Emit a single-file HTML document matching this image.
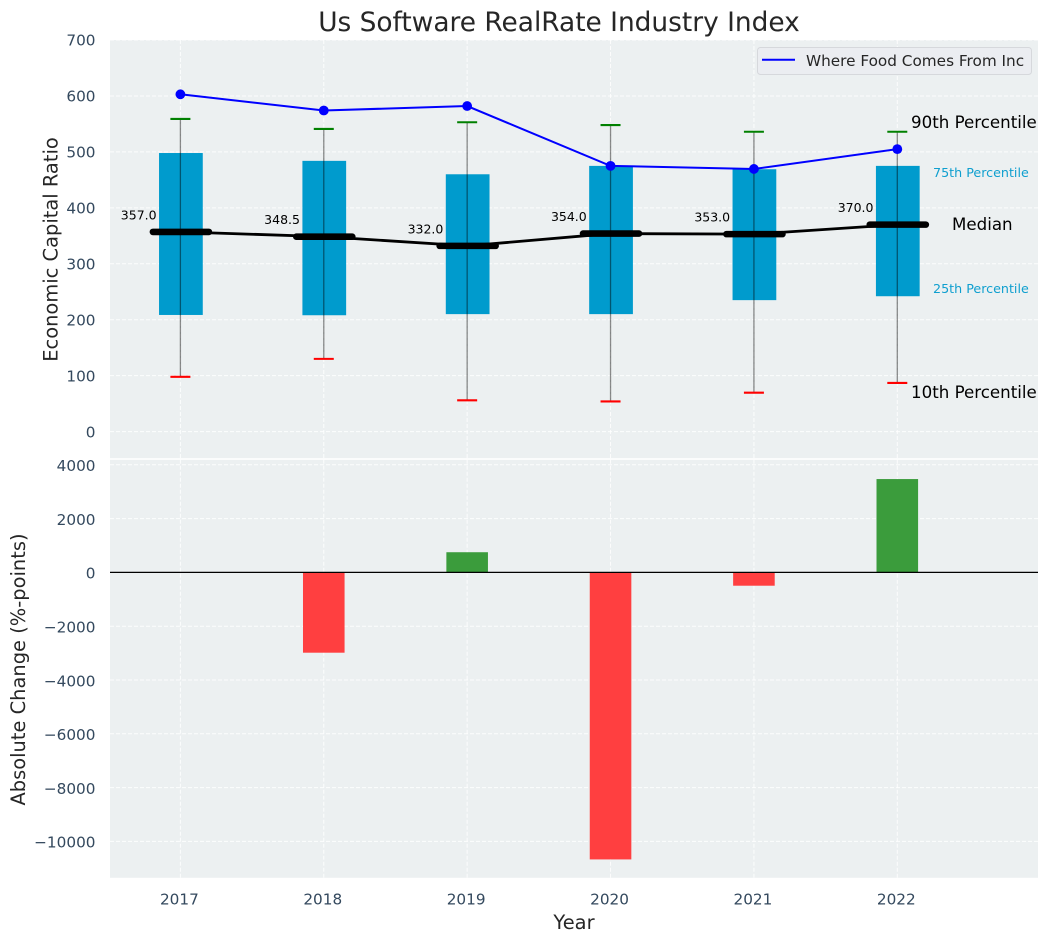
<!DOCTYPE html>
<html lang="en">
<head>
<meta charset="utf-8">
<title>Us Software RealRate Industry Index</title>
<style>
html,body{margin:0;padding:0;background:#fff;}
body{width:1048px;height:942px;overflow:hidden;}
svg{display:block;font-family:"DejaVu Sans","Liberation Sans",sans-serif;}
</style>
</head>
<body>
<svg id="chart" xmlns="http://www.w3.org/2000/svg" width="1048" height="942" viewBox="0 0 1048 942">
  <rect x="0" y="0" width="1048" height="942" fill="#ffffff"/>
  <rect x="110" y="40" width="928" height="418.2" fill="#ecf0f1"/>
  <rect x="110" y="459.8" width="928" height="418" fill="#ecf0f1"/>
  <g id="grid"></g>
  <g id="ticks"></g>
  <g id="marks-upper"></g>
  <g id="marks-lower"></g>
  <text x="559" y="31" text-anchor="middle" font-size="26.4px" fill="#262626">Us Software RealRate Industry Index</text>
  <text transform="translate(57.5,249.5) rotate(-90)" text-anchor="middle" font-size="19.44px" fill="#262626">Economic Capital Ratio</text>
  <text transform="translate(25,669.5) rotate(-90)" text-anchor="middle" font-size="19.44px" fill="#262626">Absolute Change (%-points)</text>
  <text x="574" y="929" text-anchor="middle" font-size="19.44px" fill="#262626">Year</text>
  <g>
    <rect x="757.5" y="47.5" width="274" height="27" rx="3" ry="3" fill="#ebedf1" stroke="#d6d8dc" stroke-width="1"/>
    <line x1="762" y1="59.7" x2="795" y2="59.7" stroke="#0000ff" stroke-width="2"/>
    <text x="806" y="66" font-size="15.28px" fill="#262626">Where Food Comes From Inc</text>
  </g>
  <g>
    <text x="911" y="128" font-size="16.67px" fill="#000000">90th Percentile</text>
    <text x="933" y="177" font-size="12.7px" fill="#0f9fcf">75th Percentile</text>
    <text x="952" y="230" font-size="16.67px" fill="#000000">Median</text>
    <text x="933" y="293" font-size="12.7px" fill="#0f9fcf">25th Percentile</text>
    <text x="911" y="398" font-size="16.67px" fill="#000000">10th Percentile</text>
  </g>
</svg>
<script>
const years = [2017, 2018, 2019, 2020, 2021, 2022];
const p90 = [559, 541, 553, 548, 536, 536];
const p75 = [498, 484, 460, 475, 469, 475];
const medians = [357.0, 348.5, 332.0, 354.0, 353.0, 370.0];
const p25 = [208.5, 208, 210, 210, 235, 242];
const p10 = [98, 130, 56, 54, 69.5, 87];
const companyValues = [603, 574, 582, 475, 469.5, 505];
const absoluteChange = [null, -2985, 750, -10670, -495, 3470];
const upperTicks = [0, 100, 200, 300, 400, 500, 600, 700];
const lowerTicks = [4000, 2000, 0, -2000, -4000, -6000, -8000, -10000];

const NS = 'http://www.w3.org/2000/svg';
const PLOT_L = 110, PLOT_R = 1038;
const UP_T = 40, UP_B = 458.2, LOW_T = 459.8, LOW_B = 877.8;
function xAt(year) { return 180.4 + (year - 2017) * 143.38; }
function yUp(v) { return 431.6 - v * 0.5594; }
function yLow(v) { return 572.4 - v * 0.0269; }
function pxWidth(yearSpan) { return yearSpan * 143.38; }
function fmt(v) { return String(v).replace('-', '\u2212'); }

function make(tag, parent, attrs) {
  const el = document.createElementNS(NS, tag);
  for (const k in attrs) el.setAttribute(k, attrs[k]);
  parent.appendChild(el);
  return el;
}

const grid = document.getElementById('grid');
const ticks = document.getElementById('ticks');
const up = document.getElementById('marks-upper');
const low = document.getElementById('marks-lower');
const gridStyle = { stroke: '#ffffff', 'stroke-width': 1, 'stroke-dasharray': '4 2', 'stroke-opacity': 0.85 };

upperTicks.forEach(function (t) {
  const g = make('line', grid, Object.assign({ x1: PLOT_L, x2: PLOT_R, y1: yUp(t), y2: yUp(t) }, gridStyle));
  
  
  const l = make('text', ticks, { x: 95.5, y: yUp(t) + 5.7, 'text-anchor': 'end', 'font-size': '15.28px', fill: '#34495e' });
  
  
  l.textContent = fmt(t);
});

lowerTicks.forEach(function (t) {
  const g = make('line', grid, Object.assign({ x1: PLOT_L, x2: PLOT_R, y1: yLow(t), y2: yLow(t) }, gridStyle));
  
  
  const l = make('text', ticks, { x: 95.5, y: yLow(t) + 6.3, 'text-anchor': 'end', 'font-size': '15.28px', fill: '#34495e' });
  
  
  l.textContent = fmt(t);
});

years.forEach(function (yr) {
  const g1 = make('line', grid, Object.assign({ x1: xAt(yr), x2: xAt(yr), y1: UP_T, y2: UP_B }, gridStyle));
  
  
  const g2 = make('line', grid, Object.assign({ x1: xAt(yr), x2: xAt(yr), y1: LOW_T, y2: LOW_B }, gridStyle));
  
  
  const l = make('text', ticks, { x: xAt(yr) - 1, y: 904.5, 'text-anchor': 'middle', 'font-size': '15.28px', fill: '#34495e' });
  
  
  l.textContent = String(yr);
});

/* interquartile boxes */
years.forEach(function (yr, i) {
  const w = pxWidth(0.305);
  const r = make('rect', up, { x: xAt(yr) + 0.5 - w / 2, y: yUp(p75[i]), width: w, height: yUp(p25[i]) - yUp(p75[i]), fill: '#009bcd' });
  
  
});

/* whiskers and caps */
years.forEach(function (yr, i) {
  const x = xAt(yr);
  const w = make('line', up, { x1: x, x2: x, y1: yUp(p90[i]), y2: yUp(p10[i]), stroke: '#000000', 'stroke-opacity': 0.45, 'stroke-width': 1.3 });
  
  
  const c1 = make('line', up, { x1: x - 10, x2: x + 10, y1: yUp(p90[i]), y2: yUp(p90[i]), stroke: '#008000', 'stroke-width': 2.1 });
  
  
  const c2 = make('line', up, { x1: x - 10, x2: x + 10, y1: yUp(p10[i]), y2: yUp(p10[i]), stroke: '#ff0000', 'stroke-width': 2.1 });
  
  
});

/* median connecting line */
const medLine = make('polyline', up, {
  points: years.map(function (yr, i) { return xAt(yr) + ',' + yUp(medians[i]); }).join(' '),
  fill: 'none', stroke: '#000000', 'stroke-width': 2.8
});



/* median bars and value labels */
years.forEach(function (yr, i) {
  const x = xAt(yr) + 0.5;
  const m = make('line', up, { x1: x - 28, x2: x + 28, y1: yUp(medians[i]), y2: yUp(medians[i]), stroke: '#000000', 'stroke-width': 6.6, 'stroke-linecap': 'round' });
  
  
  const t = make('text', up, { x: xAt(yr) - 23.8, y: yUp(medians[i]) - 12.5, 'text-anchor': 'end', 'font-size': '12.5px', fill: '#000000' });
  
  
  t.textContent = medians[i].toFixed(1);
});

/* company series */
const companyLine = make('polyline', up, {
  points: years.map(function (yr, i) { return xAt(yr) + ',' + yUp(companyValues[i]); }).join(' '),
  fill: 'none', stroke: '#0000ff', 'stroke-width': 2
});


years.forEach(function (yr, i) {
  const p = make('circle', up, { cx: xAt(yr), cy: yUp(companyValues[i]), r: 4.9, fill: '#0000ff' });
  
  
});

/* absolute change bars */
years.forEach(function (yr, i) {
  const v = absoluteChange[i];
  if (v === null) return;
  const w = pxWidth(0.29);
  const top = Math.min(yLow(v), yLow(0));
  const h = Math.abs(yLow(v) - yLow(0));
  const b = make('rect', low, { x: xAt(yr) - w / 2, y: top, width: w, height: h, fill: v >= 0 ? '#3b9c3c' : '#ff3f40' });
  
  
});
const zero = make('line', low, { x1: PLOT_L, x2: PLOT_R, y1: yLow(0), y2: yLow(0), stroke: '#000000', 'stroke-width': 1.2 });


</script>
</body>
</html>
